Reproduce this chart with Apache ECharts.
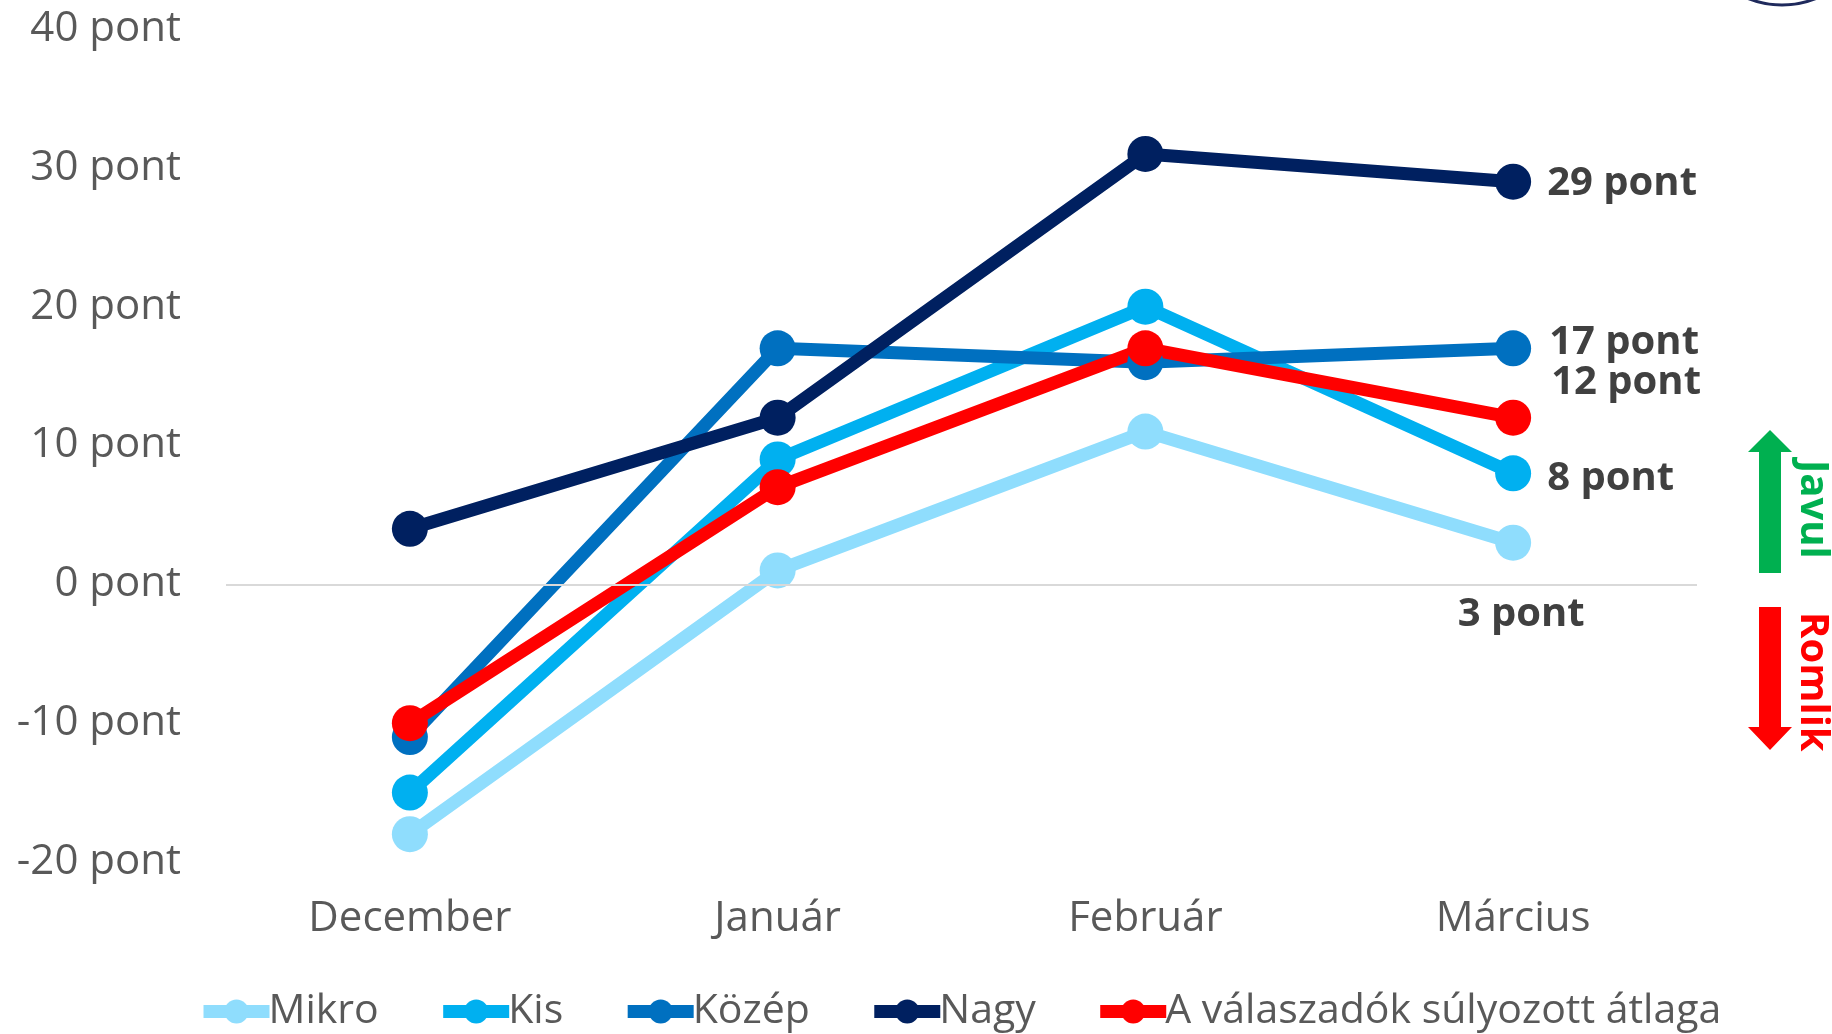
<!DOCTYPE html>
<html>
<head>
<meta charset="utf-8">
<script src="https://cdn.jsdelivr.net/npm/echarts@6/dist/echarts.min.js"></script>
<style>
  html,body{margin:0;padding:0;background:#fff;}
  #chart{width:1832px;height:1034px;}
</style>
</head>
<body>
<div id="chart"></div>
<script>
// categories and values
var months = ['December', 'Január', 'Február', 'Március'];
var mikro = [-18, 1, 11, 3];
var kis = [-15, 9, 20, 8];
var kozep = [-11, 17, 16, 17];
var nagy = [4, 12, 31, 29];
var atlag = [-10, 7, 17, 12];
var yTicks = [-20, -10, 0, 10, 20, 30, 40];

var font = '"Open Sans", "DejaVu Sans", sans-serif';

// label only on the last point, placed like in the picture
function withEndLabel(values, labelOpt){
  return values.map(function(v, i){
    if(i !== values.length - 1) return v;
    return {
      value: v,
      label: Object.assign({
        show: true,
        formatter: '{c} pont',
        color: '#404040',
        fontFamily: font,
        fontWeight: 'bold',
        fontSize: 40
      }, labelOpt)
    };
  });
}

function lineSeries(name, color, values, labelOpt){
  return {
    name: name,
    type: 'line',
    data: withEndLabel(values, labelOpt),
    symbol: 'circle',
    symbolSize: 36,
    lineStyle: {color: color, width: 13},
    itemStyle: {color: color},
    emphasis: {disabled: true},
    animation: false
  };
}

var chart = echarts.init(document.getElementById('chart'));
chart.setOption({
  backgroundColor: '#fff',
  animation: false,
  grid: {left: 226, right: 135, top: 29, bottom: 172},
  legend: {
    left: 192,
    top: 986,
    itemWidth: 66,
    itemHeight: 30,
    itemGap: 58,
    lineStyle: {width: 13},
    textStyle: {color: '#595959', fontFamily: font, fontSize: 41, padding: [0, 0, 0, -6]},
    data: ['Mikro', 'Kis', 'Közép', 'Nagy', 'A válaszadók súlyozott átlaga']
  },
  xAxis: {
    type: 'category',
    data: months,
    boundaryGap: true,
    axisLine: {show: false},
    axisTick: {show: false},
    axisLabel: {color: '#595959', fontFamily: font, fontSize: 42, margin: 36}
  },
  yAxis: {
    type: 'value',
    min: yTicks[0],
    max: yTicks[yTicks.length - 1],
    interval: 10,
    splitLine: {show: false},
    axisLine: {show: false},
    axisTick: {show: false},
    axisLabel: {
      color: '#595959', fontFamily: font, fontSize: 42, margin: 45,
      formatter: function(v){ return v + ' pont'; }
    }
  },
  series: [
    Object.assign(lineSeries('Mikro', '#8FDDFD', mikro, {position: 'bottom', distance: 34, offset: [8, 0]}), {
      markLine: {
        silent: true,
        symbol: 'none',
        label: {show: false},
        lineStyle: {color: '#D9D9D9', width: 2, type: 'solid'},
        data: [{yAxis: 0}]
      }
    }),
    lineSeries('Kis', '#00B0F0', kis, {position: 'right', distance: 16, offset: [0, 5]}),
    lineSeries('Közép', '#0070C0', kozep, {position: 'right', distance: 18, offset: [0, -6]}),
    lineSeries('Nagy', '#002060', nagy, {position: 'right', distance: 16, offset: [0, 2]}),
    lineSeries('A válaszadók súlyozott átlaga', '#FF0000', atlag, {position: 'right', distance: 20, offset: [0, -35]})
  ],
  graphic: [
    // partial logo ring at the top-right corner
    {type: 'circle', shape: {cx: 1782, cy: -87, r: 92}, style: {fill: 'none', stroke: '#1F2A5C', lineWidth: 3}},
    // green "Javul" arrow
    {type: 'polygon', shape: {points: [[1770, 430], [1792, 452], [1781, 452], [1781, 573], [1759, 573], [1759, 452], [1748, 452]]}, style: {fill: '#00B050'}},
    {type: 'text', x: 1812, y: 460, rotation: -Math.PI / 2,
      style: {text: 'Javul', fill: '#00B050', font: 'bold 40px ' + font, textAlign: 'left', textVerticalAlign: 'middle'}},
    // red "Romlik" arrow
    {type: 'polygon', shape: {points: [[1759, 607], [1781, 607], [1781, 727], [1792, 727], [1770, 750], [1748, 727], [1759, 727]]}, style: {fill: '#FF0000'}},
    {type: 'text', x: 1812, y: 612, rotation: -Math.PI / 2,
      style: {text: 'Romlik', fill: '#FF0000', font: 'bold 40px ' + font, textAlign: 'left', textVerticalAlign: 'middle'}}
  ]
});
</script>
</body>
</html>
